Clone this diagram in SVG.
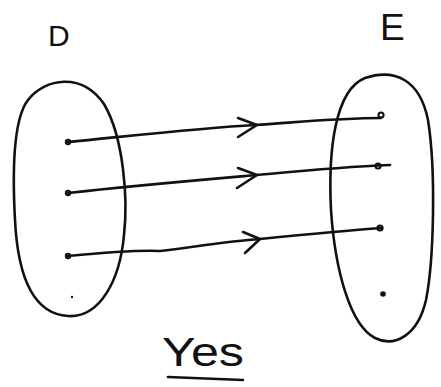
<svg xmlns="http://www.w3.org/2000/svg" width="441" height="387" viewBox="0 0 441 387">
<style>
.s{fill:none;stroke:#111;stroke-width:2.6;stroke-linecap:round;stroke-linejoin:round}
.d{fill:#fff;stroke:#111;stroke-width:2}
.t{font-family:"Liberation Sans",Arial,sans-serif;fill:#111}
</style>
<rect width="441" height="387" fill="#fff"/>
<g id="setD">
<path class="s" d="M28,100 C45,78 82,72 104,104 C124,138 128,200 124,235 C120,280 100,318 68,316 C35,314 18,280 15,220 C12,165 14,118 28,100 Z"/>
<text class="t" x="48" y="46" font-size="30">D</text>
<circle class="d" cx="68" cy="142" r="2.2"/>
<circle class="d" cx="68" cy="193" r="2.2"/>
<circle class="d" cx="68" cy="256" r="2.2"/>
<circle cx="72" cy="297" r="1.2" fill="#111"/>
</g>
<g id="setE">
<path class="s" d="M365,78 C395,68 420,80 428,120 C436,170 434,260 426,300 C418,335 395,348 375,338 C350,325 335,270 331,210 C328,150 335,90 365,78 Z"/>
<text class="t" x="380" y="40" font-size="37">E</text>
<circle class="d" cx="381" cy="115" r="2.6"/>
<circle class="d" cx="378" cy="166" r="2.6"/>
<circle class="d" cx="380" cy="228" r="2.6"/>
<circle cx="383" cy="294" r="2.8" fill="#111"/>
</g>
<g id="connectors">
<path class="s" d="M68,142 C130,136 200,128 255,125 C300,122 340,118 381,118"/>
<path class="s" d="M238,118 L257,125 L238,137"/>
<path class="s" d="M68,193 C130,186 200,180 257,175 C300,171 340,167 390,165"/>
<path class="s" d="M238,168 L257,175 L237,188"/>
<path class="s" d="M68,256 C110,252 140,250 160,251 C200,246 230,241 260,239 C300,235 340,231 382,228"/>
<path class="s" d="M243,232 L260,239 L245,253"/>
</g>
<g id="caption">
<text class="t" x="162" y="366" font-size="40" textLength="82" lengthAdjust="spacingAndGlyphs">Yes</text>
<path class="s" d="M168,377 L243,380"/>
</g>
</svg>
